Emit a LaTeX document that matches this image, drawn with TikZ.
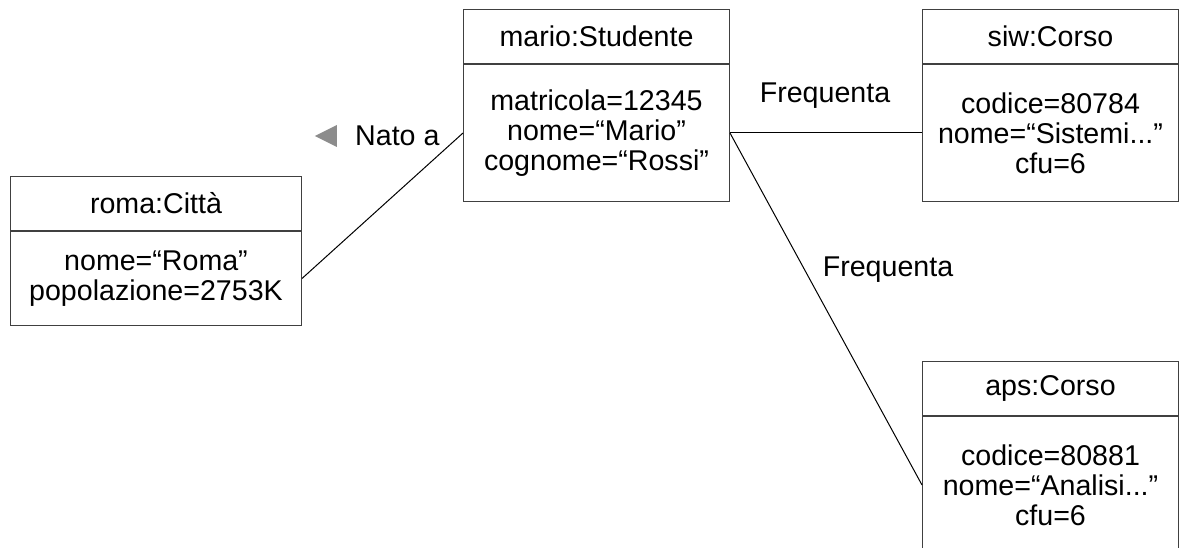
\documentclass[tikz,border=0pt]{standalone}
\usepackage{fontspec}
\setmainfont{Liberation Sans}
\usetikzlibrary{shapes.geometric}

\tikzset{
  objhead/.style={draw=black!75,line width=1pt,anchor=north west,inner sep=0pt,align=center,minimum height=54},
  objbody/.style={draw=black!75,line width=1pt,anchor=north west,inner sep=0pt,align=center,minimum height=137},
  link/.style={draw=black,line width=1pt},
  linklabel/.style={inner sep=0pt}
}

\begin{document}
\begin{tikzpicture}[x=1pt,y=-1pt,every node/.style={font=\fontsize{28.6}{30}\selectfont}]
  \clip (0,0) rectangle (1179,548);
  % oggetti
  \node[objhead,minimum width=291] (roma) at (10,176) {roma:Citt\`a};
  \node[objbody,minimum width=291,minimum height=94] (romab) at (roma.south west)
  {nome=“Roma”\\popolazione=2753K};

  \node[objhead,minimum width=266] (mario) at (463,9) {mario:Studente};
  \node[objbody,minimum width=266] (mariob) at (mario.south west)
  {matricola=12345\\nome=“Mario”\\cognome=“Rossi”};

  \node[objhead,minimum width=256] (siw) at (922,9) {siw:Corso};
  \node[objbody,minimum width=256] (siwb) at (siw.south west)
  {codice=80784\\nome=“Sistemi...”\\cfu=6};

  \node[objhead,minimum width=256] (aps) at (922,361) {aps:Corso};
  \node[objbody,minimum width=256] (apsb) at (aps.south west)
  {codice=80881\\nome=“Analisi...”\\cfu=6};

  % collegamenti
  \draw[link] (romab.east) -- (mariob.west);
  \draw[link] (mariob.east) -- (siwb.west);
  \draw[link] (mariob.east) -- (apsb.west);

  % etichette
  \node[isosceles triangle,shape border rotate=180,fill=black!45,inner sep=0pt,
        minimum height=22,minimum width=22,isosceles triangle stretches] (verso) at (330,136) {};
  \node[linklabel,anchor=west] (nato) at (355,136) {Nato a};
  \node[linklabel] (freq1) at (825,96) {Frequenta};
  \node[linklabel] (freq2) at (888,270) {Frequenta};
\end{tikzpicture}
\end{document}
